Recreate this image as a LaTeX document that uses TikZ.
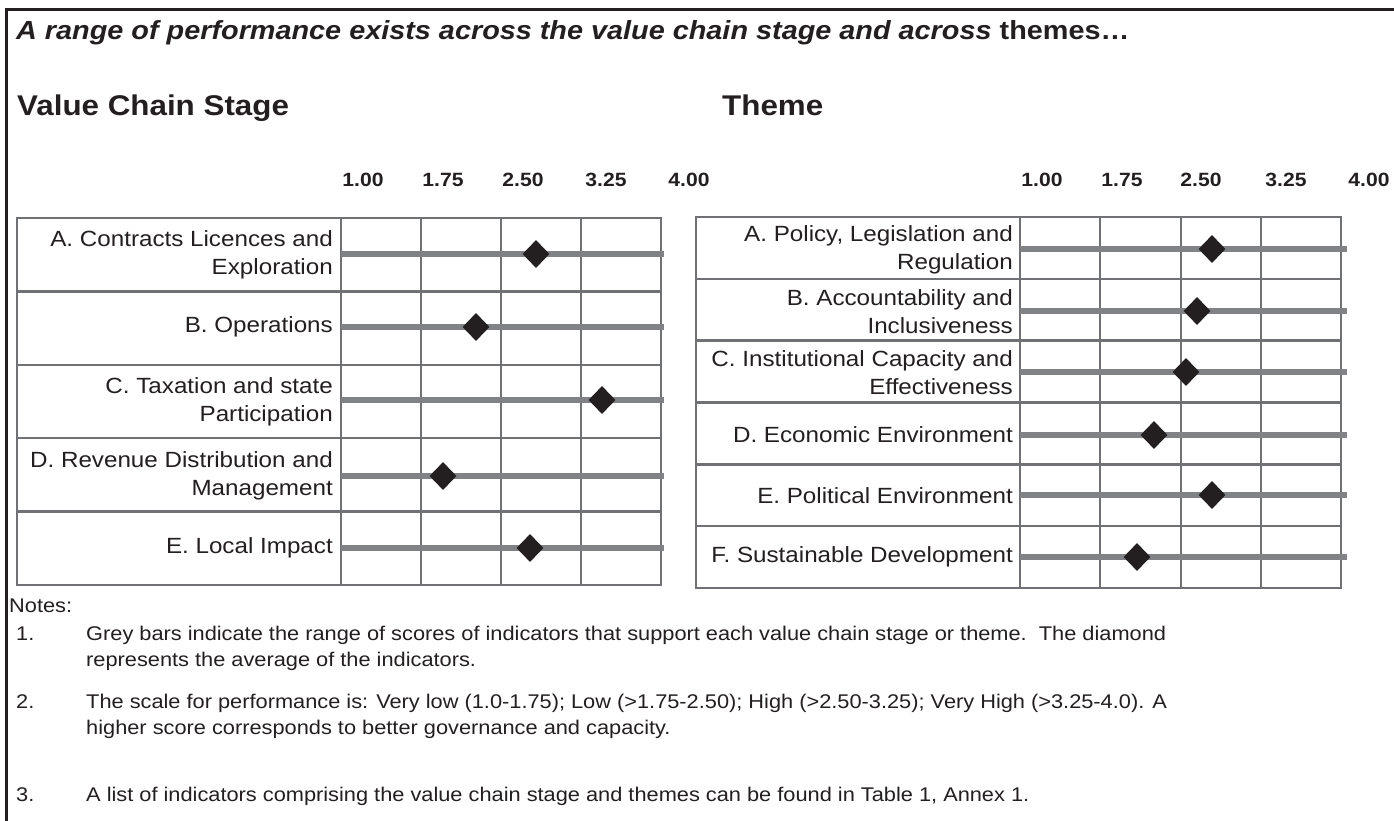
\documentclass[tikz,border=0pt]{standalone}
\usepackage{fontspec}
\setmainfont{Liberation Sans}[FakeStretch=1.1]
\usetikzlibrary{shapes.geometric}

\definecolor{inkdark}{RGB}{35,31,32}
\definecolor{gridgrey}{RGB}{112,113,116}
\definecolor{bargrey}{RGB}{128,130,133}

\tikzset{
  gridline/.style={draw=gridgrey, line width=2.5pt},
  rangebar/.style={draw=bargrey, line width=6pt},
  avgmark/.style={diamond, fill=inkdark, inner sep=0pt, minimum width=27pt, minimum height=28pt},
  rowlabel/.style={anchor=east, align=right, inner sep=0pt, text=inkdark, font=\fontsize{22}{28}\selectfont},
  ticklabel/.style={anchor=base, inner sep=0pt, text=inkdark, font=\fontsize{19.2}{22}\selectfont\bfseries},
  headlabel/.style={anchor=base west, inner sep=0pt, text=inkdark, font=\fontsize{28.5}{32}\selectfont\bfseries},
  notetext/.style={anchor=base west, inner sep=0pt, text=inkdark, font=\fontsize{19.8}{26}\selectfont},
}

\begin{document}
\begin{tikzpicture}[x=1pt, y=-1pt]
	\useasboundingbox (0,0) rectangle (1394,821);
	\fill[white] (0,0) rectangle (1394,821);

	% outer frame (only top and left edges fall inside the page)
	\draw[draw=inkdark, line width=3pt] (6,840) -- (6,10) -- (1410,10);

	% headings
	\node[anchor=base west, inner sep=0pt, text=inkdark, font=\fontsize{26.2}{30}\selectfont\bfseries] (title) at (16,40)
		{\itshape A range of performance exists across the value chain stage and across\upshape{} themes…};
	\node[headlabel] (vcs) at (17,116) {Value Chain Stage};
	\node[headlabel] (theme) at (722,116) {Theme};

	% scale, value chain stage
	\node[ticklabel] (lt1) at (363,186) {1.00};
	\node[ticklabel] (lt2) at (443,186) {1.75};
	\node[ticklabel] (lt3) at (523,186) {2.50};
	\node[ticklabel] (lt4) at (606,186) {3.25};
	\node[ticklabel] (lt5) at (689,186) {4.00};

	% scale, theme
	\node[ticklabel] (rt1) at (1042,186) {1.00};
	\node[ticklabel] (rt2) at (1122,186) {1.75};
	\node[ticklabel] (rt3) at (1201,186) {2.50};
	\node[ticklabel] (rt4) at (1286,186) {3.25};
	\node[ticklabel] (rt5) at (1369,186) {4.00};

	% left table grid
	\draw[gridline] (17,218) rectangle (661,585);
	\draw[gridline] (17,291.4) -- (661,291.4);
	\draw[gridline] (17,364.8) -- (661,364.8);
	\draw[gridline] (17,438.2) -- (661,438.2);
	\draw[gridline] (17,511.6) -- (661,511.6);
	\draw[gridline] (341,218) -- (341,585);
	\draw[gridline] (421,218) -- (421,585);
	\draw[gridline] (501,218) -- (501,585);
	\draw[gridline] (581,218) -- (581,585);

	% right table grid
	\draw[gridline] (696,217) rectangle (1341,588);
	\draw[gridline] (696,278.8) -- (1341,278.8);
	\draw[gridline] (696,340.7) -- (1341,340.7);
	\draw[gridline] (696,402.5) -- (1341,402.5);
	\draw[gridline] (696,464.3) -- (1341,464.3);
	\draw[gridline] (696,526.2) -- (1341,526.2);
	\draw[gridline] (1020,217) -- (1020,588);
	\draw[gridline] (1100,217) -- (1100,588);
	\draw[gridline] (1181,217) -- (1181,588);
	\draw[gridline] (1261,217) -- (1261,588);

	% value chain stage rows
	\node[rowlabel] (sA) at (333,255) {A. Contracts Licences and\\Exploration};
	\node[rowlabel] (sB) at (333,327) {B. Operations};
	\node[rowlabel] (sC) at (333,402) {C. Taxation and state\\Participation};
	\node[rowlabel] (sD) at (333,476) {D. Revenue Distribution and\\Management};
	\node[rowlabel] (sE) at (333,548) {E. Local Impact};

	\coordinate (sA0) at (341,254); \coordinate (sA1) at (664,254);
	\coordinate (sB0) at (341,327); \coordinate (sB1) at (664,327);
	\coordinate (sC0) at (341,400); \coordinate (sC1) at (664,400);
	\coordinate (sD0) at (341,476); \coordinate (sD1) at (664,476);
	\coordinate (sE0) at (341,548); \coordinate (sE1) at (664,548);
	\draw[rangebar] (sA0) -- (sA1);
	\draw[rangebar] (sB0) -- (sB1);
	\draw[rangebar] (sC0) -- (sC1);
	\draw[rangebar] (sD0) -- (sD1);
	\draw[rangebar] (sE0) -- (sE1);
	\node[avgmark] (sAm) at (536,254) {};
	\node[avgmark] (sBm) at (476,327) {};
	\node[avgmark] (sCm) at (602,400) {};
	\node[avgmark] (sDm) at (443,476) {};
	\node[avgmark] (sEm) at (530,548) {};

	% theme rows
	\node[rowlabel] (tA) at (1013,249.5) {A. Policy, Legislation and\\Regulation};
	\node[rowlabel] (tB) at (1013,311.5) {B. Accountability and\\Inclusiveness};
	\node[rowlabel] (tC) at (1013,373) {C. Institutional Capacity and\\Effectiveness};
	\node[rowlabel] (tD) at (1013,435) {D. Economic Environment};
	\node[rowlabel] (tE) at (1013,496) {E. Political Environment};
	\node[rowlabel] (tF) at (1013,557) {F. Sustainable Development};

	\coordinate (tA0) at (1020,249); \coordinate (tA1) at (1347,249);
	\coordinate (tB0) at (1020,311); \coordinate (tB1) at (1347,311);
	\coordinate (tC0) at (1020,372); \coordinate (tC1) at (1347,372);
	\coordinate (tD0) at (1020,435); \coordinate (tD1) at (1347,435);
	\coordinate (tE0) at (1020,495); \coordinate (tE1) at (1347,495);
	\coordinate (tF0) at (1020,557); \coordinate (tF1) at (1347,557);
	\draw[rangebar] (tA0) -- (tA1);
	\draw[rangebar] (tB0) -- (tB1);
	\draw[rangebar] (tC0) -- (tC1);
	\draw[rangebar] (tD0) -- (tD1);
	\draw[rangebar] (tE0) -- (tE1);
	\draw[rangebar] (tF0) -- (tF1);
	\node[avgmark] (tAm) at (1212,249) {};
	\node[avgmark] (tBm) at (1197,311) {};
	\node[avgmark] (tCm) at (1186,372) {};
	\node[avgmark] (tDm) at (1154,435) {};
	\node[avgmark] (tEm) at (1212,495) {};
	\node[avgmark] (tFm) at (1137,557) {};

	% notes
	\node[notetext] (notes) at (9,612) {Notes:};
	\node[notetext] (n1) at (16,640) {1.};
	\node[notetext] (n1a) at (86,640) {Grey bars indicate the range of scores of indicators that support each value chain stage or theme.\ \ The diamond};
	\node[notetext] (n1b) at (86,666) {represents the average of the indicators.};
	\node[notetext] (n2) at (16,708) {2.};
	\node[notetext] (n2a) at (86,708) {The scale for performance is: Very low (1.0-1.75); Low (>1.75-2.50); High (>2.50-3.25); Very High (>3.25-4.0). A};
	\node[notetext] (n2b) at (86,734) {higher score corresponds to better governance and capacity.};
	\node[notetext] (n3) at (16,801) {3.};
	\node[notetext] (n3a) at (86,801) {A list of indicators comprising the value chain stage and themes can be found in Table 1, Annex 1.};
\end{tikzpicture}
\end{document}
